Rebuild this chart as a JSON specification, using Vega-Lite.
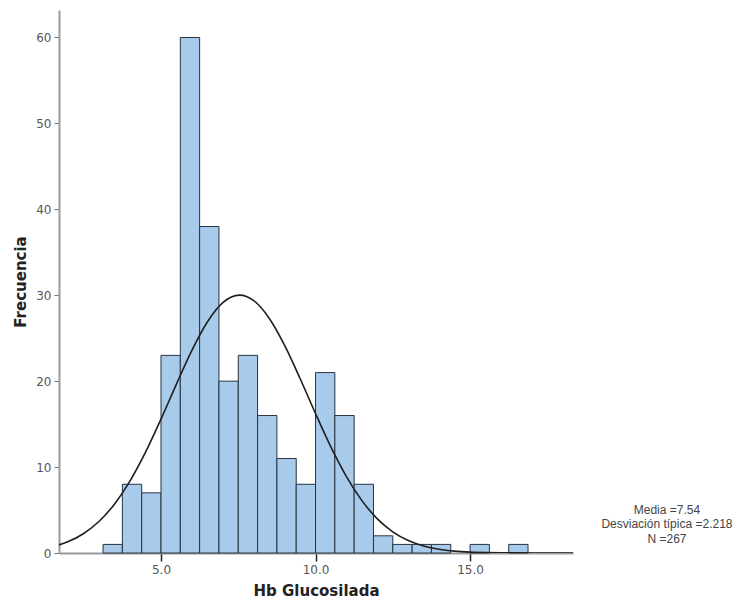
{
  "$schema": "https://vega.github.io/schema/vega-lite/v6.json",
  "width": 514,
  "height": 543,
  "autosize": "none",
  "padding": {"left": 59, "top": 10, "right": 171, "bottom": 55},
  "background": "white",
  "config": {"view": {"stroke": null}},
  "datasets": {
    "bins": [
      {"bin_start": 3.125, "bin_end": 3.75, "count": 1},
      {"bin_start": 3.75, "bin_end": 4.375, "count": 8},
      {"bin_start": 4.375, "bin_end": 5.0, "count": 7},
      {"bin_start": 5.0, "bin_end": 5.625, "count": 23},
      {"bin_start": 5.625, "bin_end": 6.25, "count": 60},
      {"bin_start": 6.25, "bin_end": 6.875, "count": 38},
      {"bin_start": 6.875, "bin_end": 7.5, "count": 20},
      {"bin_start": 7.5, "bin_end": 8.125, "count": 23},
      {"bin_start": 8.125, "bin_end": 8.75, "count": 16},
      {"bin_start": 8.75, "bin_end": 9.375, "count": 11},
      {"bin_start": 9.375, "bin_end": 10.0, "count": 8},
      {"bin_start": 10.0, "bin_end": 10.625, "count": 21},
      {"bin_start": 10.625, "bin_end": 11.25, "count": 16},
      {"bin_start": 11.25, "bin_end": 11.875, "count": 8},
      {"bin_start": 11.875, "bin_end": 12.5, "count": 2},
      {"bin_start": 12.5, "bin_end": 13.125, "count": 1},
      {"bin_start": 13.125, "bin_end": 13.75, "count": 1},
      {"bin_start": 13.75, "bin_end": 14.375, "count": 1},
      {"bin_start": 15.0, "bin_end": 15.625, "count": 1},
      {"bin_start": 16.25, "bin_end": 16.875, "count": 1}
    ],
    "curve": [
      {"hb": 1.7, "freq": 0.937},
      {"hb": 2.0, "freq": 1.326},
      {"hb": 2.5, "freq": 2.271},
      {"hb": 3.0, "freq": 3.695},
      {"hb": 3.5, "freq": 5.713},
      {"hb": 4.0, "freq": 8.398},
      {"hb": 4.5, "freq": 11.732},
      {"hb": 5.0, "freq": 15.58},
      {"hb": 5.5, "freq": 19.663},
      {"hb": 6.0, "freq": 23.587},
      {"hb": 6.5, "freq": 26.891},
      {"hb": 7.0, "freq": 29.139},
      {"hb": 7.54, "freq": 30.015},
      {"hb": 8.0, "freq": 29.376},
      {"hb": 8.5, "freq": 27.331},
      {"hb": 9.0, "freq": 24.168},
      {"hb": 9.5, "freq": 20.313},
      {"hb": 10.0, "freq": 16.226},
      {"hb": 10.5, "freq": 12.319},
      {"hb": 11.0, "freq": 8.89},
      {"hb": 11.5, "freq": 6.097},
      {"hb": 12.0, "freq": 3.975},
      {"hb": 12.5, "freq": 2.463},
      {"hb": 13.0, "freq": 1.45},
      {"hb": 13.5, "freq": 0.812},
      {"hb": 14.0, "freq": 0.432},
      {"hb": 14.5, "freq": 0.218},
      {"hb": 15.0, "freq": 0.105},
      {"hb": 15.5, "freq": 0.048},
      {"hb": 16.0, "freq": 0.021},
      {"hb": 16.5, "freq": 0.009},
      {"hb": 17.0, "freq": 0.003},
      {"hb": 18.33, "freq": 0.0}
    ],
    "stats": [
      {"lines": ["Media =7.54", "Desviación típica =2.218", "N =267"]}
    ]
  },
  "layer": [
    {
      "data": {"name": "bins"},
      "mark": {"type": "rect", "fill": "#a8cbec", "stroke": "#26333f", "strokeWidth": 1},
      "encoding": {
        "x": {
          "field": "bin_start",
          "type": "quantitative",
          "scale": {"domain": [1.7, 18.33], "nice": false, "zero": false},
          "axis": {
            "title": "Hb Glucosilada",
            "values": [5, 10, 15],
            "format": ".1f",
            "grid": false,
            "domainColor": "#9a9a9a",
            "domainWidth": 2,
            "tickColor": "#222222",
            "tickWidth": 1.5,
            "tickSize": 8,
            "labelFont": "DejaVu Sans",
            "labelFontSize": 12,
            "labelColor": "#555555",
            "labelPadding": 3,
            "titleFont": "DejaVu Sans",
            "titleFontSize": 15,
            "titleFontWeight": "bold",
            "titleColor": "#222222",
            "titlePadding": 8
          }
        },
        "x2": {"field": "bin_end"},
        "y": {
          "field": "count",
          "type": "quantitative",
          "scale": {"domain": [0, 63.2], "nice": false},
          "axis": {
            "title": "Frecuencia",
            "values": [0, 10, 20, 30, 40, 50, 60],
            "grid": false,
            "domainColor": "#9a9a9a",
            "domainWidth": 2,
            "tickColor": "#777777",
            "tickSize": 5,
            "labelFont": "DejaVu Sans",
            "labelFontSize": 12,
            "labelColor": "#555555",
            "labelPadding": 3,
            "titleFont": "DejaVu Sans",
            "titleFontSize": 15,
            "titleFontWeight": "bold",
            "titleColor": "#222222",
            "titlePadding": 7
          }
        },
        "y2": {"datum": 0}
      }
    },
    {
      "data": {"name": "curve"},
      "mark": {"type": "line", "color": "#1e1e1e", "strokeWidth": 1.6, "interpolate": "monotone", "clip": true},
      "encoding": {
        "x": {"field": "hb", "type": "quantitative"},
        "y": {"field": "freq", "type": "quantitative"}
      }
    },
    {
      "data": {"name": "stats"},
      "mark": {"type": "text", "font": "Liberation Sans", "fontSize": 12, "color": "#444444", "align": "center", "baseline": "top", "lineHeight": 14.5, "clip": false},
      "encoding": {
        "x": {"datum": 21.37, "type": "quantitative"},
        "y": {"datum": 5.6, "type": "quantitative"},
        "text": {"field": "lines"}
      }
    }
  ]
}
